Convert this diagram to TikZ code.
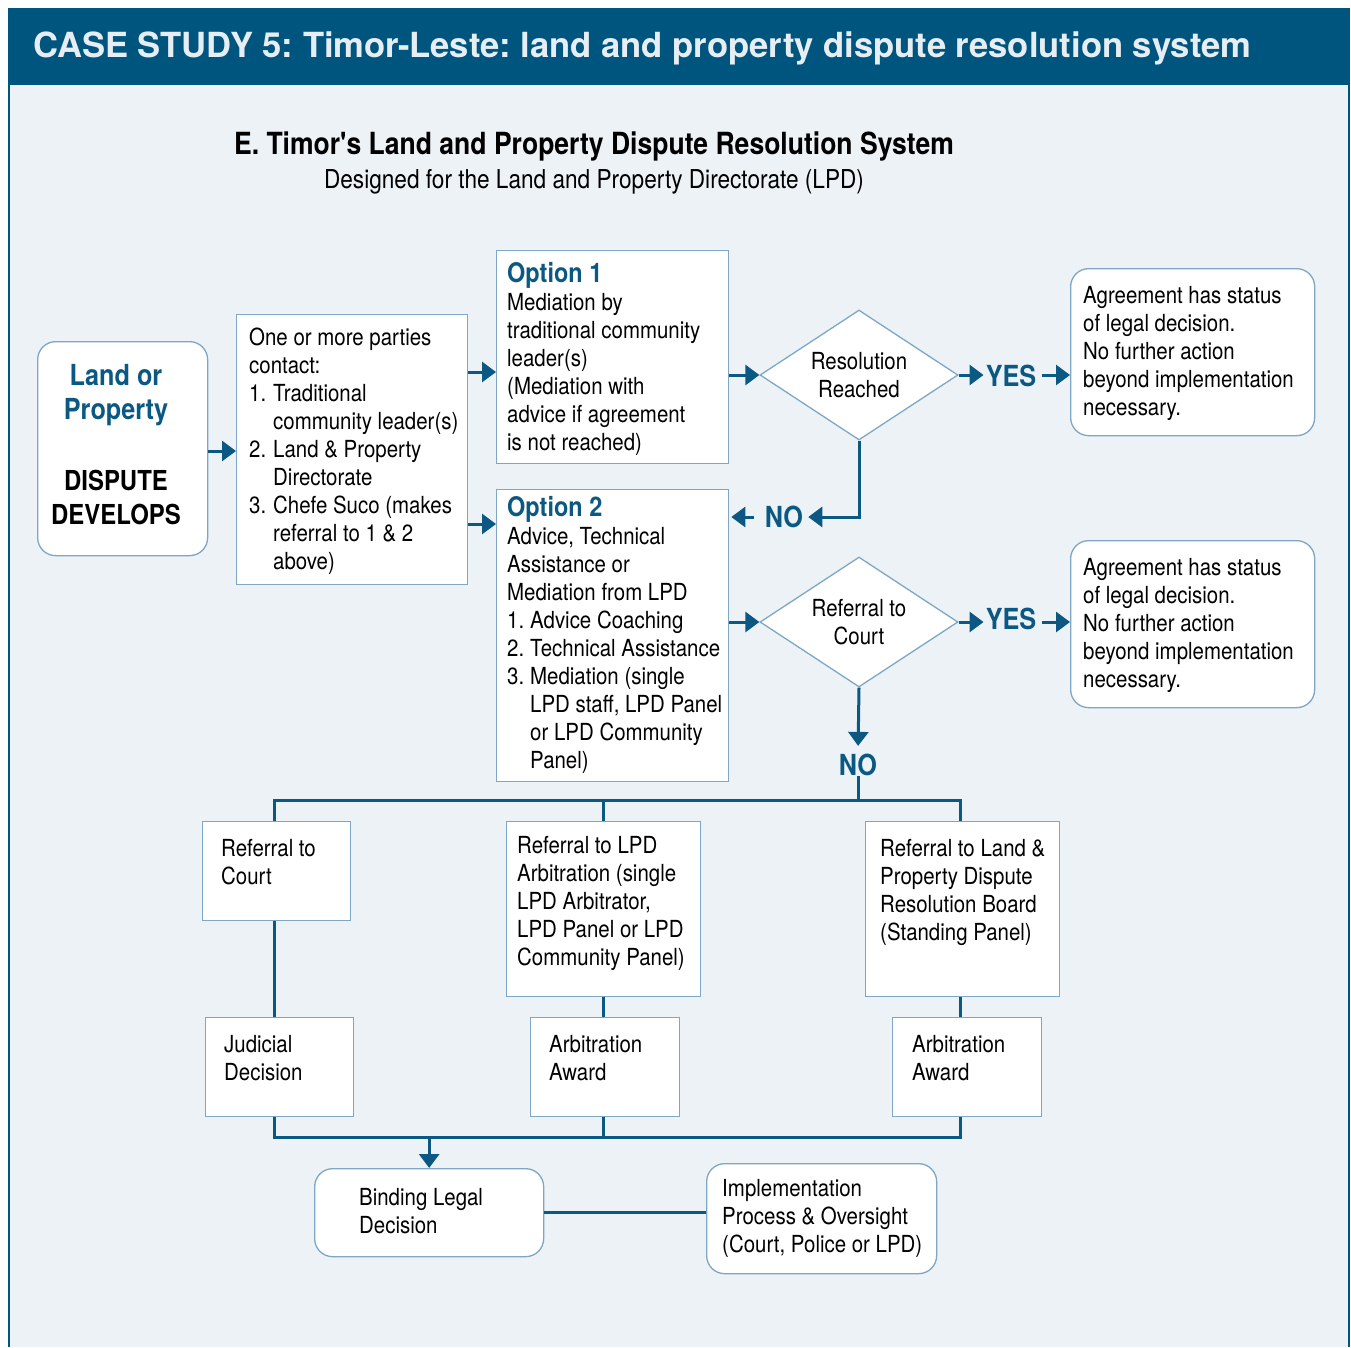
\documentclass[tikz,border=0pt]{standalone}
\usepackage{fontspec}
\setmainfont{TeX Gyre Heros}
\newfontfamily\condfont[FakeStretch=0.87]{TeX Gyre Heros}
\usetikzlibrary{arrows.meta,shapes.geometric}
\frenchspacing

\definecolor{hdrblue}{HTML}{00557F}
\definecolor{flowblue}{HTML}{0B5983}
\definecolor{boxedge}{HTML}{7DA7C4}
\definecolor{paneback}{HTML}{EDF2F7}
\definecolor{hdrtext}{HTML}{E6EDF3}

\newcommand{\bodysize}{\condfont\fontsize{23.5}{28}\selectfont}
\newcommand{\itemno}[1]{\makebox[24pt][l]{#1}}

\tikzset{
  box/.style={draw=boxedge, line width=1.3pt, fill=white, inner sep=0pt, anchor=north west},
  roundbox/.style={box, rounded corners=18pt},
  choice/.style={diamond, aspect=1.52, draw=boxedge, line width=1.3pt, fill=white, inner sep=0pt,
    minimum width=198pt, minimum height=130pt, font=\bodysize, align=center},
  txt/.style={inner sep=0pt, anchor=north west, align=left, font=\bodysize},
  flow/.style={draw=flowblue, line width=3pt},
  arr/.style={flow, -{Triangle[length=14pt,width=20pt]}},
  answer/.style={inner sep=0pt, text=flowblue, font=\condfont\bfseries\fontsize{29}{34}\selectfont},
}

\begin{document}
\begin{tikzpicture}[x=1pt, y=-1pt]
\useasboundingbox (0,0) rectangle (1351,1347);

% Panel and header band
\fill[paneback] (9,85) rectangle (1349,1347);
\fill[hdrblue] (8,8) rectangle (1350,85);
\draw[hdrblue, line width=2pt] (9,85) -- (9,1347);
\draw[hdrblue, line width=2pt] (1349,85) -- (1349,1347);
\node[anchor=west, inner sep=0pt, text=hdrtext, font=\bfseries\fontsize{34.6}{40}\selectfont] (header) at (33,48)
  {CASE STUDY 5: Timor-Leste: land and property dispute resolution system};

% Titles
\node[anchor=base, inner sep=0pt, font=\condfont\bfseries\fontsize{30.5}{36}\selectfont] (title) at (594,154)
  {E. Timor's Land and Property Dispute Resolution System};
\node[anchor=base, inner sep=0pt, font=\condfont\fontsize{26}{30}\selectfont] (subtitle) at (594,188)
  {Designed for the Land and Property Directorate (LPD)};

% Upper part of the chart
\node[roundbox, minimum width=170pt, minimum height=214pt] (land) at (37,341) {};
\node[anchor=north, inner sep=0pt, align=center, font=\condfont\bfseries\fontsize{29}{34}\selectfont] (landtext) at (116,364)
  {\textcolor{flowblue}{Land or}\\\textcolor{flowblue}{Property}\\[37pt]{\fontsize{27.5}{34}\selectfont DISPUTE}\\{\fontsize{27.5}{34}\selectfont DEVELOPS}};

\node[box, minimum width=231pt, minimum height=270pt] (parties) at (236,314) {};
\node[txt] (partiestext) at (249,328)
  {One or more parties\\contact:\\\itemno{1.}Traditional\\\itemno{}community leader(s)\\
   \itemno{2.}Land \& Property\\\itemno{}Directorate\\\itemno{3.}Chefe Suco (makes\\
   \itemno{}referral to 1 \& 2\\\itemno{}above)};

\node[box, minimum width=232pt, minimum height=213pt] (opt1) at (496,250) {};
\node[txt] (opt1text) at (507,262)
  {\textcolor{flowblue}{\bfseries\fontsize{27}{28}\selectfont Option 1}\\Mediation by\\traditional community\\leader(s)\\
   (Mediation with\\advice if agreement\\is not reached)};

\node[box, minimum width=232pt, minimum height=292pt] (opt2) at (496,489) {};
\node[txt] (opt2text) at (507,496)
  {\textcolor{flowblue}{\bfseries\fontsize{27}{28}\selectfont Option 2}\\Advice, Technical\\Assistance or\\Mediation from LPD\\
   \makebox[23pt][l]{1.}Advice Coaching\\\makebox[23pt][l]{2.}Technical Assistance\\\makebox[23pt][l]{3.}Mediation (single\\
   \makebox[23pt][l]{}LPD staff, LPD Panel\\\makebox[23pt][l]{}or LPD Community\\\makebox[23pt][l]{}Panel)};

\node[choice] (resolved) at (859,375) {Resolution\\Reached};
\node[choice] (court) at (859,622) {Referral to\\Court};

\node[roundbox, minimum width=244pt, minimum height=167pt] (agree1) at (1070,268) {};
\node[txt] (agree1text) at (1083,286)
  {Agreement has status\\of legal decision.\\No further action\\beyond implementation\\necessary.};
\node[roundbox, minimum width=244pt, minimum height=167pt] (agree2) at (1070,540) {};
\node[txt] (agree2text) at (1083,558)
  {Agreement has status\\of legal decision.\\No further action\\beyond implementation\\necessary.};

\node[answer] (yes1) at (1011,376) {YES};
\node[answer] (no1) at (784,517) {NO};
\node[answer] (yes2) at (1011,619) {YES};
\node[answer] (no2) at (858,765) {NO};

% Lower part of the chart
\node[box, minimum width=148pt, minimum height=99pt] (refcourt) at (202,821) {};
\node[txt] (refcourttext) at (221,839) {Referral to\\Court};
\node[box, minimum width=194pt, minimum height=175pt] (reflpd) at (506,821) {};
\node[txt] (reflpdtext) at (517,836)
  {Referral to LPD\\Arbitration (single\\LPD Arbitrator,\\LPD Panel or LPD\\Community Panel)};
\node[box, minimum width=194pt, minimum height=175pt] (refboard) at (865,821) {};
\node[txt] (refboardtext) at (880,839)
  {Referral to Land \&\\Property Dispute\\Resolution Board\\(Standing Panel)};

\node[box, minimum width=148pt, minimum height=99pt] (judicial) at (205,1017) {};
\node[txt] (judicialtext) at (224,1035) {Judicial\\Decision};
\node[box, minimum width=149pt, minimum height=99pt] (award1) at (530,1017) {};
\node[txt] (award1text) at (549,1035) {Arbitration\\Award};
\node[box, minimum width=149pt, minimum height=99pt] (award2) at (892,1017) {};
\node[txt] (award2text) at (912,1035) {Arbitration\\Award};

\node[roundbox, minimum width=229pt, minimum height=88pt] (binding) at (314,1168) {};
\node[txt] (bindingtext) at (359,1188) {Binding Legal\\Decision};
\node[roundbox, minimum width=230pt, minimum height=110pt] (implement) at (706,1163) {};
\node[txt] (implementtext) at (722,1179) {Implementation\\Process \& Oversight\\(Court, Police or LPD)};

\coordinate (topbus) at (0,800);
\coordinate (lowbus) at (0,1137);

% Connectors
\draw[arr] (land.east |- 0,451) -- (parties.west |- 0,451);
\draw[arr] (parties.east |- 0,372) -- (opt1.west |- 0,372);
\draw[arr] (parties.east |- 0,524) -- (opt2.west |- 0,524);
\draw[arr] (opt1.east |- resolved) -- (resolved.west);
\draw[arr] (opt2.east |- court) -- (court.west);
\draw[arr, shorten >=2pt] (resolved.east) -- (yes1.west |- resolved.east);
\draw[arr, shorten <=6pt] (yes1.east |- resolved.east) -- (agree1.west |- resolved.east);
\draw[arr, shorten >=2pt] (court.east) -- (yes2.west |- court.east);
\draw[arr, shorten <=6pt] (yes2.east |- court.east) -- (agree2.west |- court.east);
\draw[arr, shorten >=5pt] (resolved.south) |- (no1.east);
\draw[arr, shorten <=11pt, shorten >=2pt] (no1.west) -- (opt2.east |- no1);
\draw[arr, shorten >=8pt] (court.south) -- (no2.north);
\draw[flow] (no2.south) -- (no2.south |- topbus);
\draw[flow] (refcourt.north -| 274,0) |- (topbus -| 960,0) -- (refboard.north -| 960,0);
\draw[flow] (reflpd.north -| 603,0) -- (topbus -| 603,0);
\draw[flow] (refcourt.south -| 274,0) -- (judicial.north -| 274,0);
\draw[flow] (reflpd.south -| 603,0) -- (award1.north -| 603,0);
\draw[flow] (refboard.south -| 960,0) -- (award2.north -| 960,0);
\draw[flow] (judicial.south -| 274,0) |- (lowbus -| 960,0) -- (award2.south -| 960,0);
\draw[flow] (award1.south -| 603,0) -- (lowbus -| 603,0);
\draw[arr] (binding.north |- lowbus) -- (binding.north);
\draw[flow] (binding.east) -- (binding.east -| implement.west);
\end{tikzpicture}
\end{document}
